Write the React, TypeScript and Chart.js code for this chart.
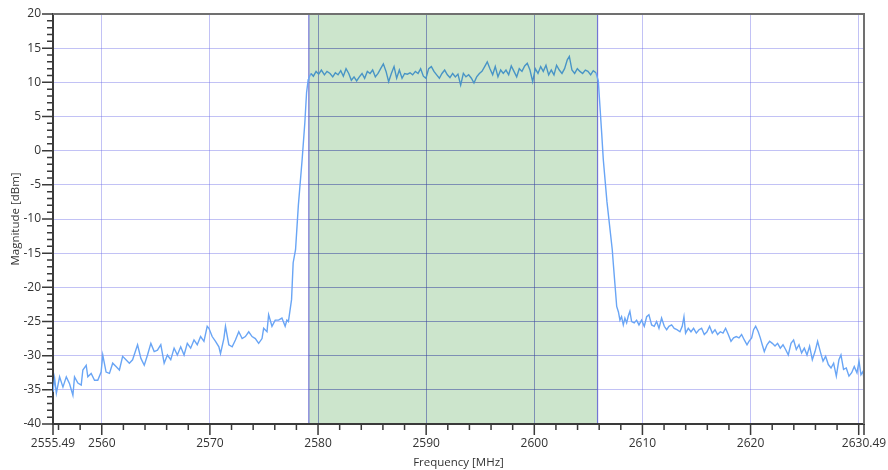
import React, { useEffect, useRef } from "react";
import { Chart, registerables } from "chart.js";
Chart.register(...registerables);

// ---- axis ranges & ticks ----
const xMin = 2555.49;
const xMax = 2630.49;
const yMin = -40;
const yMax = 20;
const xMajorTicks = [2555.49, 2560, 2570, 2580, 2590, 2600, 2610, 2620, 2630, 2630.49];
const xLabelTicks = [2555.49, 2560, 2570, 2580, 2590, 2600, 2610, 2620, 2630.49];
const xGridValues = [2560, 2570, 2580, 2590, 2600, 2610, 2620, 2630];
const yGridValues = [-35, -30, -25, -20, -15, -10, -5, 0, 5, 10, 15];

// ---- occupied channel band ----
const bandLow = 2579.15;
const bandHigh = 2605.85;

// ---- spectrum trace (MHz / dBm) ----
const lowFreq = [2555.49, 2555.64, 2555.8, 2556.1, 2556.41, 2556.72, 2557.02, 2557.33, 2557.48, 2557.79, 2558.1, 2558.25, 2558.56, 2558.71, 2559.02, 2559.33, 2559.63, 2559.94, 2560.09, 2560.4, 2560.71, 2561.01, 2561.32, 2561.63, 2561.93, 2562.24, 2562.55, 2562.85, 2563.31, 2563.62, 2563.93, 2564.23, 2564.54, 2564.85, 2565.15, 2565.46, 2565.77, 2566.07, 2566.38, 2566.69, 2566.99, 2567.3, 2567.61, 2567.91, 2568.22, 2568.53, 2568.83, 2569.14, 2569.45, 2569.75, 2569.91, 2570.21, 2570.52, 2570.83, 2570.98, 2571.29, 2571.44, 2571.75, 2572.06, 2572.36, 2572.67, 2572.98, 2573.28, 2573.59, 2573.9, 2574.2, 2574.51, 2574.82, 2574.97, 2575.28, 2575.43, 2575.74, 2576.04, 2576.35, 2576.66, 2576.96, 2577.12];
const lowMag = [-35.3, -33.3, -35.5, -33.1, -34.6, -33.1, -34.1, -35.8, -33.1, -34.0, -34.3, -32.1, -31.4, -33.1, -32.6, -33.6, -33.6, -32.4, -29.9, -32.4, -32.6, -31.1, -31.6, -32.1, -30.1, -30.6, -31.1, -30.6, -28.4, -30.4, -31.4, -29.9, -28.2, -29.4, -29.2, -28.4, -31.1, -29.9, -30.6, -28.9, -29.9, -28.7, -29.9, -28.2, -28.9, -27.7, -28.4, -27.2, -27.9, -25.7, -26.0, -27.2, -27.9, -28.7, -29.7, -27.5, -25.7, -28.4, -28.7, -27.7, -26.5, -27.5, -27.2, -26.5, -27.2, -27.5, -28.2, -27.5, -26.0, -26.5, -24.0, -25.7, -24.8, -24.8, -24.5, -25.7, -24.8];

const riseFreq = [2577.26, 2577.55, 2577.7, 2577.92, 2578.18, 2578.53, 2578.78, 2578.94, 2579.09];
const riseMag = [-25.0, -21.8, -16.4, -14.5, -8.0, -1.3, 4.1, 8.5, 10.4];

const bandFreq = [2579.14, 2579.35, 2579.57, 2579.82, 2580.06, 2580.31, 2580.59, 2580.83, 2581.11, 2581.36, 2581.6, 2581.85, 2582.1, 2582.34, 2582.59, 2582.84, 2583.08, 2583.33, 2583.57, 2583.82, 2584.07, 2584.31, 2584.56, 2584.81, 2585.05, 2585.3, 2585.55, 2585.79, 2586.04, 2586.29, 2586.53, 2586.78, 2587.03, 2587.27, 2587.52, 2587.77, 2588.01, 2588.26, 2588.51, 2588.75, 2589.0, 2589.25, 2589.49, 2589.74, 2589.98, 2590.23, 2590.48, 2590.72, 2590.97, 2591.22, 2591.46, 2591.71, 2591.96, 2592.2, 2592.45, 2592.7, 2592.94, 2593.19, 2593.44, 2593.68, 2593.93, 2594.18, 2594.42, 2594.67, 2594.92, 2595.16, 2595.41, 2595.65, 2595.9, 2596.15, 2596.39, 2596.64, 2596.89, 2597.13, 2597.38, 2597.63, 2597.87, 2598.12, 2598.37, 2598.61, 2598.86, 2599.11, 2599.35, 2599.6, 2599.85, 2600.09, 2600.34, 2600.59, 2600.83, 2601.08, 2601.33, 2601.57, 2601.82, 2602.06, 2602.31, 2602.56, 2602.8, 2603.05, 2603.24, 2603.48, 2603.73, 2603.98, 2604.22, 2604.47, 2604.72, 2604.96, 2605.21, 2605.45, 2605.7];
const bandMag = [10.6, 11.3, 10.9, 11.6, 11.2, 11.8, 11.1, 11.6, 11.3, 10.8, 11.4, 11.1, 11.7, 10.9, 12.0, 11.3, 10.3, 10.8, 10.2, 10.8, 11.3, 10.6, 11.6, 11.3, 11.8, 10.8, 11.3, 12.0, 12.7, 11.6, 10.1, 11.3, 12.3, 10.6, 11.8, 10.6, 11.3, 11.2, 11.4, 11.1, 11.6, 11.3, 12.0, 10.9, 10.6, 12.0, 12.3, 11.6, 11.1, 10.6, 11.3, 11.8, 11.1, 10.7, 11.3, 10.8, 11.2, 9.6, 11.3, 10.8, 11.1, 10.6, 9.9, 10.8, 11.3, 11.6, 12.3, 13.0, 12.0, 11.1, 12.3, 10.8, 11.8, 11.3, 11.8, 11.1, 12.4, 11.6, 10.8, 12.0, 11.6, 12.4, 12.8, 11.8, 10.1, 12.0, 11.3, 12.3, 11.6, 12.5, 11.1, 11.8, 11.1, 12.5, 11.8, 11.3, 12.0, 13.3, 13.8, 11.8, 11.3, 12.0, 11.6, 11.3, 11.8, 11.6, 11.1, 11.7, 11.4];

const fallFreq = [2605.92, 2606.07, 2606.23, 2606.38, 2606.72, 2607.21, 2607.3, 2607.45, 2607.62, 2607.78];
const fallMag = [10.2, 6.5, 2.6, -1.3, -7.5, -14.5, -16.4, -19.4, -22.8, -23.6];

const highFreq = [2607.92, 2608.07, 2608.23, 2608.38, 2608.54, 2608.69, 2608.84, 2609.0, 2609.24, 2609.46, 2609.68, 2609.92, 2610.17, 2610.39, 2610.6, 2610.85, 2611.09, 2611.31, 2611.53, 2611.77, 2612.02, 2612.24, 2612.45, 2612.7, 2612.94, 2613.19, 2613.47, 2613.68, 2613.84, 2613.99, 2614.24, 2614.49, 2614.73, 2614.98, 2615.23, 2615.47, 2615.72, 2615.97, 2616.21, 2616.46, 2616.71, 2616.95, 2617.2, 2617.45, 2617.69, 2617.94, 2618.19, 2618.43, 2618.68, 2618.93, 2619.17, 2619.42, 2619.67, 2619.85, 2620.1, 2620.28, 2620.47, 2620.71, 2620.9, 2621.08, 2621.27, 2621.52, 2621.76, 2622.01, 2622.26, 2622.5, 2622.75, 2623.0, 2623.24, 2623.49, 2623.74, 2623.98, 2624.23, 2624.48, 2624.72, 2624.97, 2625.22, 2625.46, 2625.71, 2625.96, 2626.2, 2626.45, 2626.7, 2626.94, 2627.19, 2627.44, 2627.68, 2627.93, 2628.17, 2628.36, 2628.6, 2628.85, 2629.1, 2629.35, 2629.59, 2629.84, 2630.03, 2630.21, 2630.4, 2630.49];
const highMag = [-24.8, -24.3, -25.5, -24.5, -25.2, -24.2, -23.5, -25.0, -25.2, -24.8, -25.5, -24.8, -25.7, -24.3, -24.0, -25.5, -25.7, -25.0, -26.0, -24.5, -25.7, -26.2, -25.7, -25.5, -26.0, -26.2, -26.5, -25.7, -24.3, -26.7, -26.0, -26.5, -26.0, -26.7, -26.2, -26.0, -26.9, -26.5, -25.7, -26.7, -26.2, -26.9, -26.5, -26.7, -26.0, -26.9, -27.9, -27.4, -27.2, -27.4, -26.9, -27.7, -28.4, -27.9, -27.4, -26.2, -25.7, -26.5, -27.4, -28.4, -29.4, -28.4, -27.9, -28.2, -28.6, -28.2, -28.9, -28.4, -29.1, -29.9, -28.2, -27.7, -29.1, -28.4, -29.6, -28.9, -29.9, -28.6, -30.6, -29.4, -27.9, -29.4, -30.8, -30.1, -31.3, -31.8, -31.1, -33.0, -30.6, -29.9, -32.0, -31.8, -33.0, -32.5, -31.6, -32.5, -30.8, -32.8, -32.3, -33.5];

// ---- styles ----
const FONT = "'Open Sans', 'Noto Sans', sans-serif";
const lineBlue = "rgb(105,165,245)";
const lineInBand = "rgb(72,148,198)";
const gridColor = "rgba(110,110,230,0.42)";
const bandFill = "rgb(204,229,204)";
const bandGrid = "rgba(60,72,160,0.55)";
const bandEdge = "rgba(95,95,210,0.85)";
const axisColor = "#3a3a3a";
const borderGray = "#707070";
const textColor = "#333333";

function alignPx(p: number) {
  return Math.round(p - 0.5) + 0.5;
}

export default function App() {
  const ref = useRef<HTMLCanvasElement>(null);

  useEffect(() => {
    const canvas = ref.current;
    if (!canvas) return;
    const freqs = [...lowFreq, ...riseFreq, ...bandFreq, ...fallFreq, ...highFreq];
    const mags = [...lowMag, ...riseMag, ...bandMag, ...fallMag, ...highMag];
    const points = freqs.map((f, i) => ({ x: f, y: mags[i] }));

    const bandPlugin = {
      id: "bandAndTicks",
      beforeDatasetsDraw(chart: any) {
        const { ctx, chartArea: a, scales } = chart;
        const x = scales.x;
        const y = scales.y;
        const x0 = x.getPixelForValue(bandLow);
        const x1 = x.getPixelForValue(bandHigh);
        ctx.save();
        ctx.fillStyle = bandFill;
        ctx.fillRect(x0, a.top + 1, x1 - x0, a.bottom - a.top - 2);
        ctx.strokeStyle = bandGrid;
        ctx.lineWidth = 1;
        ctx.beginPath();
        for (const v of xGridValues) {
          if (v > bandLow && v < bandHigh) {
            const px = alignPx(x.getPixelForValue(v));
            ctx.moveTo(px, a.top + 1);
            ctx.lineTo(px, a.bottom - 1);
          }
        }
        for (const v of yGridValues) {
          const py = alignPx(y.getPixelForValue(v));
          ctx.moveTo(x0, py);
          ctx.lineTo(x1, py);
        }
        ctx.stroke();
        ctx.strokeStyle = bandEdge;
        ctx.lineWidth = 1.2;
        ctx.beginPath();
        ctx.moveTo(x0, a.top + 1);
        ctx.lineTo(x0, a.bottom - 1);
        ctx.moveTo(x1, a.top + 1);
        ctx.lineTo(x1, a.bottom - 1);
        ctx.stroke();
        ctx.restore();
      },
      afterDraw(chart: any) {
        const { ctx, chartArea: a, scales } = chart;
        const x = scales.x;
        const y = scales.y;
        ctx.save();
        ctx.strokeStyle = borderGray;
        ctx.lineWidth = 2;
        ctx.beginPath();
        ctx.moveTo(a.left, a.top);
        ctx.lineTo(a.right, a.top);
        ctx.lineTo(a.right, a.bottom);
        ctx.stroke();
        ctx.strokeStyle = axisColor;
        ctx.lineWidth = 1.5;
        ctx.beginPath();
        for (const v of xMajorTicks) {
          const px = x.getPixelForValue(v);
          ctx.moveTo(px, a.bottom);
          ctx.lineTo(px, a.bottom + 11);
        }
        for (let v = 2556; v < xMax; v += 2) {
          if (v % 10 === 0) continue;
          const px = x.getPixelForValue(v);
          ctx.moveTo(px, a.bottom);
          ctx.lineTo(px, a.bottom + 6);
        }
        for (let v = yMin; v <= yMax; v += 1) {
          const py = y.getPixelForValue(v);
          const len = v % 5 === 0 ? 11 : 6;
          ctx.moveTo(a.left - len, py);
          ctx.lineTo(a.left, py);
        }
        ctx.stroke();
        ctx.restore();
      },
    };

    const chart = new Chart(canvas, {
      type: "line",
      data: {
        datasets: [
          {
            data: points,
            borderColor: lineBlue,
            borderWidth: 1.4,
            pointRadius: 0,
            tension: 0,
            fill: false,
            segment: {
              borderColor: (c: any) =>
                c.p0.parsed.x >= bandLow && c.p1.parsed.x <= bandHigh ? lineInBand : lineBlue,
            },
          },
        ],
      },
      options: {
        responsive: false,
        animation: false,
        events: [],
        layout: { padding: { top: 14, right: 24, left: 0, bottom: 0 } },
        plugins: { legend: { display: false }, tooltip: { enabled: false } },
        scales: {
          x: {
            type: "linear",
            min: xMin,
            max: xMax,
            afterBuildTicks: (scale: any) => {
              scale.ticks = xMajorTicks.map((v) => ({ value: v }));
            },
            afterFit: (scale: any) => {
              scale.height = 46;
              scale.paddingLeft = 0;
              scale.paddingRight = 0;
            },
            ticks: {
              autoSkip: false,
              maxRotation: 0,
              padding: 12,
              color: textColor,
              font: { family: FONT, size: 12 },
              callback: (v: any) => (xLabelTicks.includes(Number(v)) ? String(v) : ""),
            },
            grid: {
              drawTicks: false,
              lineWidth: 1,
              color: (c: any) =>
                c.tick && xGridValues.includes(c.tick.value) ? gridColor : "rgba(0,0,0,0)",
            },
            border: { display: true, color: axisColor, width: 2 },
            title: {
              display: true,
              text: "Frequency [MHz]",
              color: textColor,
              font: { family: FONT, size: 11.5 },
              padding: { top: 0, bottom: 0 },
            },
          },
          y: {
            type: "linear",
            min: yMin,
            max: yMax,
            afterFit: (scale: any) => {
              scale.width = 53;
              scale.paddingTop = 0;
              scale.paddingBottom = 0;
            },
            ticks: {
              stepSize: 5,
              padding: 12,
              color: textColor,
              font: { family: FONT, size: 12 },
            },
            grid: {
              drawTicks: false,
              lineWidth: 1,
              color: (c: any) =>
                c.tick && yGridValues.includes(c.tick.value) ? gridColor : "rgba(0,0,0,0)",
            },
            border: { display: true, color: axisColor, width: 2 },
            title: {
              display: true,
              text: "Magnitude [dBm]",
              color: textColor,
              font: { family: FONT, size: 11.5 },
              padding: { top: 9, bottom: 0 },
            },
          },
        },
      },
      plugins: [bandPlugin],
    });
    return () => chart.destroy();
  }, []);

  return (
    <div style={{ position: "fixed", left: 0, top: 0, width: 888, height: 470, background: "#fff" }}>
      <canvas ref={ref} width={888} height={470} style={{ display: "block" }} />
    </div>
  );
}
